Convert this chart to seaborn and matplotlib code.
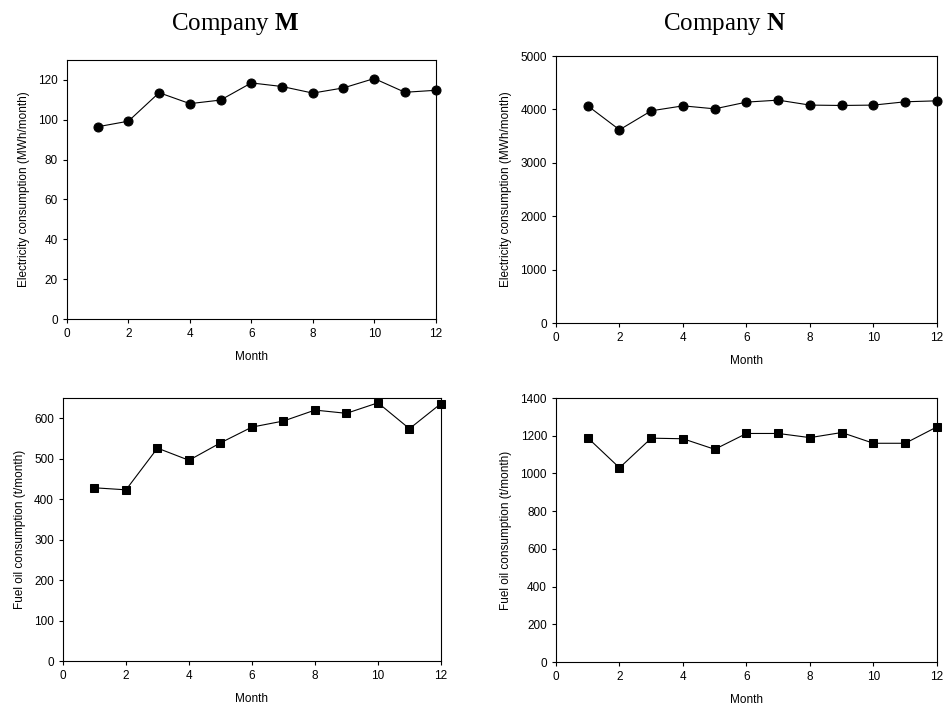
import matplotlib
matplotlib.use("Agg")
import matplotlib.pyplot as plt
import seaborn as sns
import pandas as pd

months = list(range(1, 13))

elec_m = [96.5, 99.3, 113.6, 108.1, 109.9, 118.5, 116.7, 113.4, 116.0, 120.7, 113.8, 114.8]
elec_n = [4067, 3618, 3974, 4067, 4011, 4137, 4174, 4081, 4074, 4081, 4143, 4161]
fuel_m = [428, 423, 526, 496, 539, 578, 593, 620, 612, 638, 574, 636]
fuel_n = [1189, 1030, 1187, 1184, 1128, 1212, 1212, 1190, 1217, 1160, 1160, 1247]

sns.set_style("ticks")
plt.rcParams["font.family"] = ["Liberation Sans", "DejaVu Sans"]
plt.rcParams["mathtext.fontset"] = "custom"
plt.rcParams["mathtext.rm"] = "Liberation Serif"
plt.rcParams["mathtext.bf"] = "Liberation Serif:bold"
plt.rcParams["text.color"] = "black"
plt.rcParams["axes.labelcolor"] = "black"
plt.rcParams["xtick.color"] = "black"
plt.rcParams["ytick.color"] = "black"

fig = plt.figure(figsize=(9.43, 7.11), dpi=100)

panels = [
    ([0.071, 0.5513, 0.391, 0.3643], elec_m, "o", 130, 20, "Electricity consumption (MWh/month)"),
    ([0.5896, 0.5457, 0.404, 0.3755], elec_n, "o", 5000, 1000, "Electricity consumption (MWh/month)"),
    ([0.0668, 0.0703, 0.4008, 0.370], fuel_m, "s", 650, 100, "Fuel oil consumption (t/month)"),
    ([0.5896, 0.0689, 0.404, 0.3713], fuel_n, "s", 1400, 200, "Fuel oil consumption (t/month)"),
]

for rect, values, marker, ymax, ystep, ylabel in panels:
    ax = fig.add_axes(rect)
    df = pd.DataFrame({"Month": months, "value": values})
    sns.lineplot(data=df, x="Month", y="value", ax=ax, color="black",
                 marker=marker, markersize=6.5 if marker == "o" else 5.5,
                 markeredgecolor="black", linewidth=0.8, clip_on=False)
    ax.set_xlim(0, 12)
    ax.set_ylim(0, ymax)
    ax.set_xticks(range(0, 13, 2))
    ax.set_yticks(range(0, ymax + 1, ystep))
    ax.set_xlabel("Month", fontsize=8.5, labelpad=8)
    ax.set_ylabel(ylabel, fontsize=8.5, labelpad=6)
    ax.tick_params(labelsize=8.5, length=3, width=0.8, direction="out")
    for s in ax.spines.values():
        s.set_visible(True)
        s.set_linewidth(0.8)
        s.set_color("black")

fig.text(0.249, 0.966, r"Company $\mathbf{M}$", ha="center", va="center",
         fontsize=18, family=["Liberation Serif", "DejaVu Serif"])
fig.text(0.768, 0.966, r"Company $\mathbf{N}$", ha="center", va="center",
         fontsize=18, family=["Liberation Serif", "DejaVu Serif"])

fig.savefig("out.png", dpi=100)
